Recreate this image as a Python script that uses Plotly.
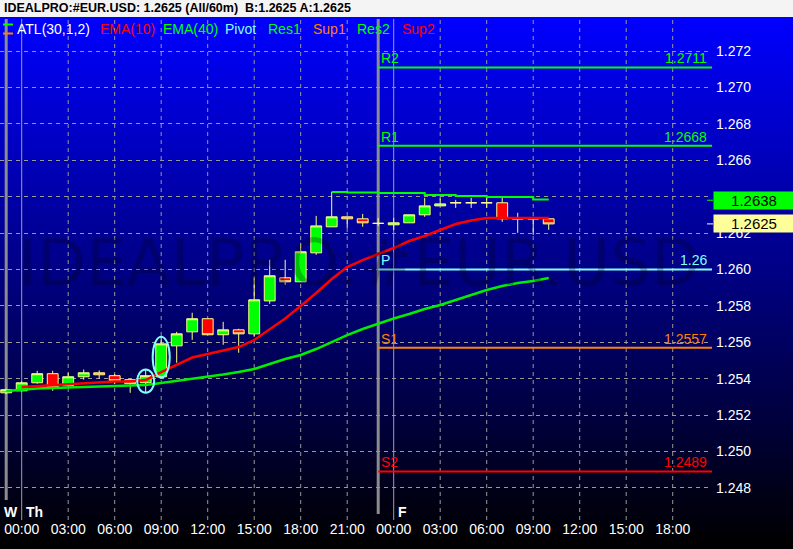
import plotly.graph_objects as go
import pandas as pd

# ---------------- data ----------------
times = [
    "2005-01-05 23:00",
    "2005-01-06 00:00", "2005-01-06 01:00", "2005-01-06 02:00", "2005-01-06 03:00",
    "2005-01-06 04:00", "2005-01-06 05:00", "2005-01-06 06:00", "2005-01-06 07:00",
    "2005-01-06 08:00", "2005-01-06 09:00", "2005-01-06 10:00", "2005-01-06 11:00",
    "2005-01-06 12:00", "2005-01-06 13:00", "2005-01-06 14:00", "2005-01-06 15:00",
    "2005-01-06 16:00", "2005-01-06 17:00", "2005-01-06 18:00", "2005-01-06 19:00",
    "2005-01-06 20:00", "2005-01-06 21:00", "2005-01-06 22:00", "2005-01-06 23:00",
    "2005-01-07 00:00", "2005-01-07 01:00", "2005-01-07 02:00", "2005-01-07 03:00",
    "2005-01-07 04:00", "2005-01-07 05:00", "2005-01-07 06:00", "2005-01-07 07:00",
    "2005-01-07 08:00", "2005-01-07 09:00", "2005-01-07 10:00",
]
opens = [1.25322,
         1.25333, 1.25377, 1.25427, 1.25361, 1.25410, 1.25432, 1.25416, 1.25394,
         1.25377, 1.25410, 1.25580, 1.25657, 1.25729, 1.25641, 1.25668, 1.25646,
         1.25827, 1.25954, 1.25932, 1.26091, 1.26234, 1.26289, 1.26278, 1.26253,
         1.26245, 1.26256, 1.26300, 1.26349, 1.26366, 1.26366, 1.26366, 1.26366,
         1.26278, 1.26278, 1.26278]
highs = [1.25345,
         1.25385, 1.25443, 1.25443, 1.25432, 1.25450, 1.25445, 1.25425, 1.25399,
         1.25450, 1.25630, 1.25657, 1.25762, 1.25729, 1.25712, 1.25674, 1.25954,
         1.26053, 1.26053, 1.26146, 1.26294, 1.26426, 1.26289, 1.26305, 1.26283,
         1.26283, 1.26300, 1.26393, 1.26390, 1.26382, 1.26393, 1.26393, 1.26393,
         1.26311, 1.26289, 1.26278]
lows = [1.25315,
        1.25330, 1.25372, 1.25333, 1.25355, 1.25394, 1.25399, 1.25370, 1.25322,
        1.25322, 1.25405, 1.25487, 1.25613, 1.25641, 1.25586, 1.25542, 1.25630,
        1.25811, 1.25915, 1.25932, 1.26080, 1.26234, 1.26228, 1.26234, 1.26239,
        1.26217, 1.26256, 1.26289, 1.26349, 1.26338, 1.26338, 1.26338, 1.26261,
        1.26201, 1.26190, 1.26217]
closes = [1.25339,
          1.25377, 1.25427, 1.25350, 1.25410, 1.25432, 1.25421, 1.25388, 1.25372,
          1.25416, 1.25591, 1.25646, 1.25729, 1.25641, 1.25668, 1.25646, 1.25833,
          1.25965, 1.25932, 1.26097, 1.26239, 1.26289, 1.26278, 1.26256, 1.26253,
          1.26256, 1.26300, 1.26349, 1.26360, 1.26366, 1.26366, 1.26366, 1.26278,
          1.26278, 1.26278, 1.26250]
ema10 = [None,
         1.253537, 1.253592, 1.253647, 1.253702, 1.253757, 1.253812, 1.253839, 1.253839,
         1.253922, 1.254361, 1.254773, 1.255158, 1.255350, 1.255543, 1.255735, 1.256120,
         1.256724, 1.257301, 1.257988, 1.258702, 1.259471, 1.260131, 1.260515, 1.260845,
         1.261175, 1.261560, 1.261834, 1.262164, 1.262494, 1.262686, 1.262823, 1.262823,
         1.262823, 1.262823, 1.262823]
ema40 = [1.253317,
         1.253399, 1.253454, 1.253482, 1.253509, 1.253537, 1.253564, 1.253592, 1.253619,
         1.253647, 1.253757, 1.253867, 1.253976, 1.254086, 1.254224, 1.254361, 1.254526,
         1.254801, 1.255075, 1.255295, 1.255625, 1.256010, 1.256394, 1.256724, 1.257026,
         1.257301, 1.257548, 1.257823, 1.258043, 1.258318, 1.258592, 1.258867, 1.259087,
         1.259252, 1.259362, 1.259527]
atl = [None,
       None, None, None, None, None, None, None, None,
       None, None, None, None, None, None, None, None,
       None, None, None, None, 1.264252, 1.264225, 1.264225, 1.264197,
       1.264197, 1.264197, 1.264087, 1.264087, 1.264032, 1.264032, 1.263977, 1.263977,
       1.263977, 1.263840, 1.263840]

pivot_names = ["R2", "R1", "P", "S1", "S2"]
pivot_values = [1.2711, 1.2668, 1.26, 1.2557, 1.2489]
pivot_texts = ["1.2711", "1.2668", "1.26", "1.2557", "1.2489"]
pivot_colors = ["#00ff00", "#00ff00", "#80ffff", "#ff8000", "#ff0000"]
pivot_start = "2005-01-06 23:00"

highlight_times = ["2005-01-06 08:00", "2005-01-06 09:00"]

y_ticks = [1.248, 1.250, 1.252, 1.254, 1.256, 1.258, 1.260,
           1.262, 1.264, 1.266, 1.268, 1.270, 1.272]
x_ticks = ["2005-01-06 00:00", "2005-01-06 03:00", "2005-01-06 06:00", "2005-01-06 09:00",
           "2005-01-06 12:00", "2005-01-06 15:00", "2005-01-06 18:00", "2005-01-06 21:00",
           "2005-01-07 00:00", "2005-01-07 03:00", "2005-01-07 06:00", "2005-01-07 09:00",
           "2005-01-07 12:00", "2005-01-07 15:00", "2005-01-07 18:00"]
x_tick_labels = ["00:00", "03:00", "06:00", "09:00", "12:00", "15:00", "18:00", "21:00",
                 "00:00", "03:00", "06:00", "09:00", "12:00", "15:00", "18:00"]
day_starts = ["2005-01-06 00:00", "2005-01-07 00:00"]
day_labels = ["Th", "F"]
session_ends = ["2005-01-05 23:00", "2005-01-06 23:00"]

legend_items = ["ATL(30,1,2)", "EMA(10)", "EMA(40)", "Pivot", "Res1", "Sup1", "Res2", "Sup2"]
legend_colors = ["#ffffff", "#ff0000", "#00ff00", "#80ffff", "#00ff00", "#ff8000", "#00ff00", "#ff0000"]

header_text = "IDEALPRO:#EUR.USD: 1.2625 (All/60m) \u00a0B:1.2625 A:1.2625"
atl_last = 1.2638
last_close = 1.2625

# ---------------- geometry ----------------
W, H = 793, 549
TOP, BOT, RIGHT = 17, 500, 712
Y_RANGE = [1.247330, 1.273868]
T0 = pd.Timestamp("2005-01-06 00:00")
X_RANGE = [T0 - pd.Timedelta(hours=1.4), T0 + pd.Timedelta(hours=44.535)]
FONT = "Liberation Sans, Arial, sans-serif"


def py(Y):
    return (BOT - Y) / (BOT - TOP)


def pxp(X):
    return X / RIGHT


fig = go.Figure()

fig.add_trace(go.Candlestick(
    x=times, open=opens, high=highs, low=lows, close=closes,
    increasing=dict(fillcolor="#00ff00", line=dict(color="#ffff88", width=1)),
    decreasing=dict(fillcolor="#ff0000", line=dict(color="#ffff88", width=1)),
    whiskerwidth=0, showlegend=False, hoverinfo="skip",
))
fig.add_trace(go.Scatter(x=times, y=ema40, mode="lines",
                         line=dict(color="#00ee00", width=2.5), showlegend=False, hoverinfo="skip"))
fig.add_trace(go.Scatter(x=times, y=ema10, mode="lines",
                         line=dict(color="#ff0000", width=2.5), showlegend=False, hoverinfo="skip"))
fig.add_trace(go.Scatter(x=times, y=atl, mode="lines",
                         line=dict(color="#00ff00", width=2, shape="hv"), showlegend=False, hoverinfo="skip"))

shapes = []
# background gradient
step = 4
Y = TOP
while Y < H:
    mid = Y + step / 2
    b = max(0, int(round(255 * (1 - (mid - TOP) / 526))))
    shapes.append(dict(type="rect", xref="paper", yref="paper",
                       x0=-0.01, x1=W / RIGHT + 0.01, y0=py(Y + step + 0.5), y1=py(Y),
                       fillcolor=f"rgb(0,0,{b})", line=dict(width=0), layer="below"))
    Y += step
# header strip
shapes.append(dict(type="rect", xref="paper", yref="paper", x0=-0.01, x1=W / RIGHT + 0.01,
                   y0=py(TOP), y1=py(-2), fillcolor="#f4f4f4", line=dict(width=0), layer="below"))

# vertical grid lines (3-hour)
for t in x_ticks:
    if t in day_starts:
        continue
    shapes.append(dict(type="line", xref="x", yref="paper", x0=t, x1=t, y0=py(520), y1=py(TOP + 2),
                       line=dict(color="#9a9a9a", width=1, dash="4px,4px"), layer="below"))
# day start lines
for t in day_starts:
    shapes.append(dict(type="line", xref="x", yref="paper", x0=t, x1=t, y0=py(520), y1=py(TOP + 2),
                       line=dict(color="#a0a0a0", width=1), layer="below"))
# session end lines
for i, t in enumerate(session_ends):
    shapes.append(dict(type="line", xref="x", yref="paper", x0=t, x1=t,
                       y0=py(500 if i == 0 else 514), y1=py(TOP + 2),
                       line=dict(color="#8c8c8c", width=3), layer="below"))

# pivot lines
for v, c in zip(pivot_values, pivot_colors):
    shapes.append(dict(type="line", xref="x", yref="y", x0=pivot_start, x1=X_RANGE[1], y0=v, y1=v,
                       line=dict(color=c, width=2)))

# highlight ellipses
for t in highlight_times:
    i = times.index(t)
    tt = pd.Timestamp(t)
    shapes.append(dict(type="circle", xref="x", yref="y",
                       x0=tt - pd.Timedelta(minutes=33), x1=tt + pd.Timedelta(minutes=33),
                       y0=lows[i], y1=highs[i], line=dict(color="#80ffff", width=2)))

# legend icon
shapes.append(dict(type="line", xref="paper", yref="paper", x0=pxp(3), x1=pxp(13), y0=py(24.5), y1=py(24.5),
                   line=dict(color="#00ff00", width=2)))
shapes.append(dict(type="line", xref="paper", yref="paper", x0=pxp(3), x1=pxp(13), y0=py(33.5), y1=py(33.5),
                   line=dict(color="#ff8000", width=2)))
# price tag ticks
shapes.append(dict(type="line", xref="paper", yref="y", x0=pxp(707), x1=pxp(713), y0=atl_last, y1=atl_last,
                   line=dict(color="#00ff00", width=1)))
shapes.append(dict(type="line", xref="paper", yref="y", x0=pxp(707), x1=pxp(713), y0=last_close, y1=last_close,
                   line=dict(color="#ffffff", width=1)))

ann = []
# watermark
ann.append(dict(text="IDEALPRO:#EUR.USD", xref="paper", yref="paper", x=pxp(16), y=py(263),
                xanchor="left", yanchor="middle", showarrow=False,
                font=dict(family="DejaVu Sans, sans-serif", size=64, color="rgba(0,0,20,0.25)")))
# header
ann.append(dict(text="<b>" + header_text + "</b>", xref="paper", yref="paper", x=pxp(2), y=py(8.5),
                xanchor="left", yanchor="middle", showarrow=False,
                font=dict(family=FONT, size=12.5, color="#000000")))
# legend row
legend_x = [15, 98, 161, 223, 266, 311, 355, 400]
for name, col, lx in zip(legend_items, legend_colors, legend_x):
    ann.append(dict(text=name, xref="paper", yref="paper", x=pxp(lx), y=py(29),
                    xanchor="left", yanchor="middle", showarrow=False,
                    font=dict(family=FONT, size=14, color=col)))
# pivot labels
for n, v, tx, c in zip(pivot_names, pivot_values, pivot_texts, pivot_colors):
    ann.append(dict(text=n, xref="x", yref="y", x=pivot_start, y=v, xanchor="left", yanchor="bottom",
                    xshift=1, yshift=-1, showarrow=False, font=dict(family=FONT, size=14, color=c)))
    ann.append(dict(text=tx, xref="paper", yref="y", x=1, y=v, xanchor="right", yanchor="bottom",
                    xshift=-3, yshift=-1, showarrow=False, font=dict(family=FONT, size=14, color=c)))
# price tags
for v, bg in [(atl_last, "#00ff00"), (last_close, "#ffff99")]:
    ann.append(dict(text=f"{v:.4f}", xref="paper", yref="y", x=1, y=v, xanchor="left", yanchor="middle",
                    xshift=1, showarrow=False, bgcolor=bg, width=78, height=15, borderpad=1,
                    font=dict(family=FONT, size=15, color="#000000")))
# day letters
ann.append(dict(text="<b>W</b>", xref="paper", yref="paper", x=pxp(2), y=py(512), xanchor="left",
                yanchor="middle", showarrow=False, font=dict(family=FONT, size=14, color="#ffffff")))
for t, lab in zip(day_starts, day_labels):
    ann.append(dict(text="<b>" + lab + "</b>", xref="x", yref="paper", x=t, y=py(512), xanchor="left",
                    yanchor="middle", xshift=2, showarrow=False,
                    font=dict(family=FONT, size=14, color="#ffffff")))

fig.update_layout(
    width=W, height=H,
    margin=dict(l=0, r=W - RIGHT, t=TOP, b=H - BOT),
    paper_bgcolor="#000000", plot_bgcolor="rgba(0,0,0,0)",
    showlegend=False, boxgap=0.3, boxgroupgap=0.0,
    shapes=shapes, annotations=ann,
    xaxis=dict(type="date", range=X_RANGE, tickmode="array", tickvals=x_ticks, ticktext=x_tick_labels,
               showgrid=False, zeroline=False, showline=False, ticks="", ticklabelstandoff=19,
               tickfont=dict(family=FONT, size=14, color="#ffffff"),
               rangeslider=dict(visible=False), fixedrange=True),
    yaxis=dict(side="right", range=Y_RANGE, tickmode="array", tickvals=y_ticks,
               ticktext=[f"{v:.3f}" for v in y_ticks],
               showgrid=True, gridcolor="#9a9a9a", griddash="4px,4px", gridwidth=1,
               zeroline=False, showline=False, ticks="", ticklabelstandoff=3,
               tickfont=dict(family=FONT, size=14, color="#ffffff"), fixedrange=True),
)

fig.write_html("out.html", config={"displayModeBar": False},
               post_script="document.body.style.margin='0';document.body.style.padding='0';"
                           "document.body.style.overflow='hidden';")
